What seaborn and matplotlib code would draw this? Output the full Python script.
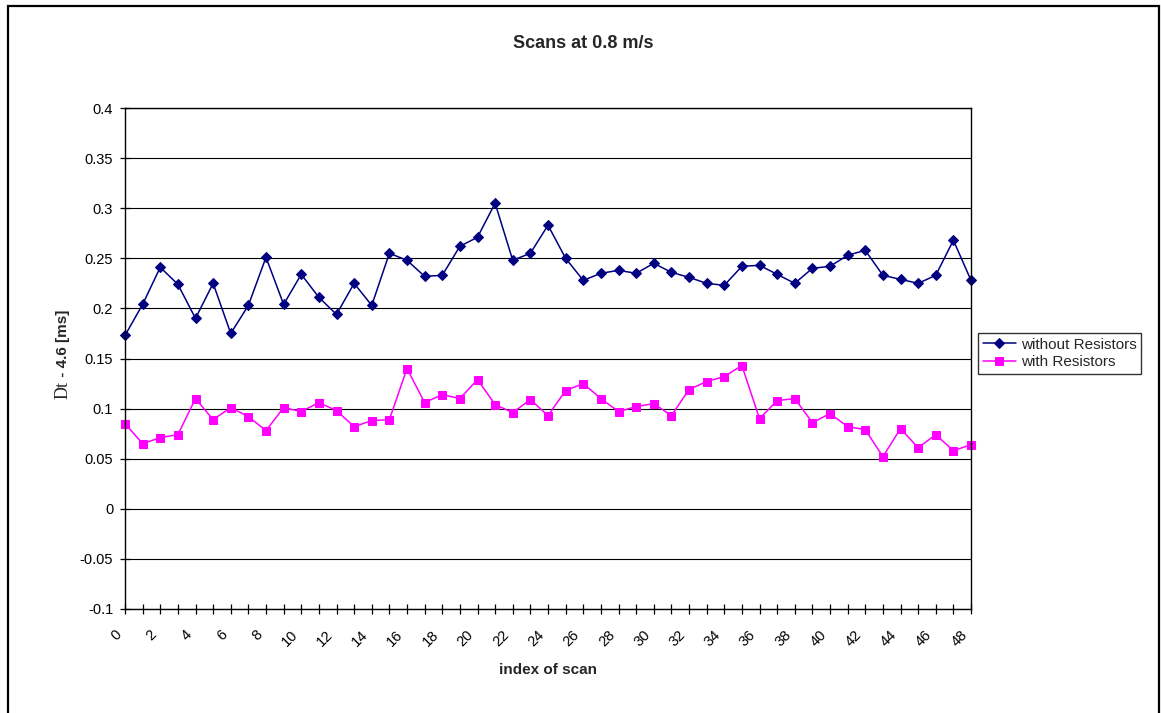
import numpy as np
import pandas as pd
import matplotlib
matplotlib.use("Agg")
from matplotlib import pyplot as plt
from matplotlib.patches import Rectangle
import matplotlib.transforms as mtransforms
import seaborn as sns

# index of scan
scan_index = list(range(49))

# Dt - 4.6 [ms]
without_res = [0.173, 0.204, 0.241, 0.224, 0.190, 0.225, 0.175, 0.203, 0.251, 0.204,
               0.234, 0.211, 0.194, 0.225, 0.203, 0.255, 0.248, 0.232, 0.233, 0.262,
               0.271, 0.305, 0.248, 0.255, 0.283, 0.250, 0.228, 0.235, 0.238, 0.235,
               0.245, 0.236, 0.231, 0.225, 0.223, 0.242, 0.243, 0.234, 0.225, 0.240,
               0.242, 0.253, 0.258, 0.233, 0.229, 0.225, 0.233, 0.268, 0.228]
with_res = [0.085, 0.065, 0.071, 0.074, 0.110, 0.089, 0.101, 0.092, 0.078, 0.101,
            0.097, 0.106, 0.098, 0.082, 0.088, 0.089, 0.140, 0.106, 0.114, 0.110,
            0.129, 0.104, 0.096, 0.109, 0.093, 0.118, 0.125, 0.110, 0.097, 0.102,
            0.105, 0.093, 0.119, 0.127, 0.132, 0.143, 0.090, 0.108, 0.110, 0.086,
            0.095, 0.082, 0.079, 0.052, 0.080, 0.061, 0.074, 0.058, 0.064]

series_names = ["without Resistors", "with Resistors"]
series_colors = ["#000080", "#FF00FF"]
y_ticks = [-0.1, -0.05, 0, 0.05, 0.1, 0.15, 0.2, 0.25, 0.3, 0.35, 0.4]
y_tick_labels = ["-0.1", "-0.05", "0", "0.05", "0.1", "0.15", "0.2", "0.25", "0.3", "0.35", "0.4"]

df = pd.DataFrame({
    "index of scan": scan_index * 2,
    "value": without_res + with_res,
    "series": [series_names[0]] * 49 + [series_names[1]] * 49,
})

sns.set_style("white")
plt.rcParams["font.family"] = ["Liberation Sans", "DejaVu Sans"]

fig = plt.figure(figsize=(11.61, 7.13), dpi=100)
ax = fig.add_axes([125 / 1161, 1 - 609 / 713, 846 / 1161, 501 / 713])

sns.lineplot(data=df, x="index of scan", y="value", hue="series", style="series",
             hue_order=series_names, style_order=series_names,
             palette=series_colors, markers={"without Resistors": "D", "with Resistors": "s"},
             dashes=False, errorbar=None, linewidth=1.1, markersize=5.5,
             legend=False, ax=ax)

for line in ax.lines:
    line.set_markeredgecolor(line.get_color())
    line.set_markerfacecolor(line.get_color())
    line.set_clip_on(False)
ax.lines[0].set_markersize(5.0)

# axes range and ticks
ax.set_xlim(0, 48)
ax.set_ylim(-0.1, 0.4)
ax.set_xticks(scan_index)
ax.set_xticklabels([str(i) if i % 2 == 0 else "" for i in scan_index],
                   rotation=45, ha="right", va="center", rotation_mode="anchor")
ax.set_yticks(y_ticks)
ax.set_yticklabels(y_tick_labels)
ax.tick_params(axis="both", direction="inout", length=7, width=0.9, color="black",
               labelsize=10.5, labelcolor="black", bottom=True, left=True)
ax.tick_params(axis="y", pad=5)
ax.tick_params(axis="x", pad=7)

# nudge rotated labels like Excel places them
shift = mtransforms.ScaledTranslation(-6 / 100, -9 / 100, fig.dpi_scale_trans)
for lab in ax.get_xticklabels():
    lab.set_transform(lab.get_transform() + shift)

ax.grid(axis="y", color="black", linewidth=0.8)
ax.set_axisbelow(True)
for sp in ax.spines.values():
    sp.set_color("black")
    sp.set_linewidth(1.0)
    sp.set_visible(True)

ax.set_xlabel("index of scan", fontsize=11, fontweight="bold", labelpad=10)
ax.set_ylabel("")

# y label: serif "Dt" then bold sans text, chained bottom to top
dt = fig.text(63 / 1161, 1 - 399 / 713, "Dt", rotation=90, ha="center", va="bottom",
              fontsize=13, family="Liberation Serif")
fig.canvas.draw()
bb = dt.get_window_extent().transformed(fig.transFigure.inverted())
fig.text(63 / 1161, bb.y1, " - 4.6 [ms]", rotation=90, ha="center", va="bottom",
         fontsize=11, fontweight="bold")

fig.text(583 / 1161, 1 - 43 / 713, "Scans at 0.8 m/s", ha="center", va="center",
         fontsize=13, fontweight="bold")

leg = ax.legend(ax.lines[:2], series_names, loc="upper left",
                bbox_to_anchor=(978 / 1161, 1 - 333 / 713), bbox_transform=fig.transFigure,
                fontsize=11, frameon=True, fancybox=False, shadow=False,
                borderpad=0.3, handlelength=2.2, handletextpad=0.3, labelspacing=0.25,
                borderaxespad=0)
leg.get_frame().set_edgecolor("black")
leg.get_frame().set_linewidth(1.0)

# outer chart border (open at bottom)
fig.patches.append(Rectangle((8 / 1161, -0.05), 1151 / 1161, 1.05 - 6 / 713,
                             transform=fig.transFigure, fill=False,
                             edgecolor="black", linewidth=1.6))

fig.savefig("out.png", dpi=100)
